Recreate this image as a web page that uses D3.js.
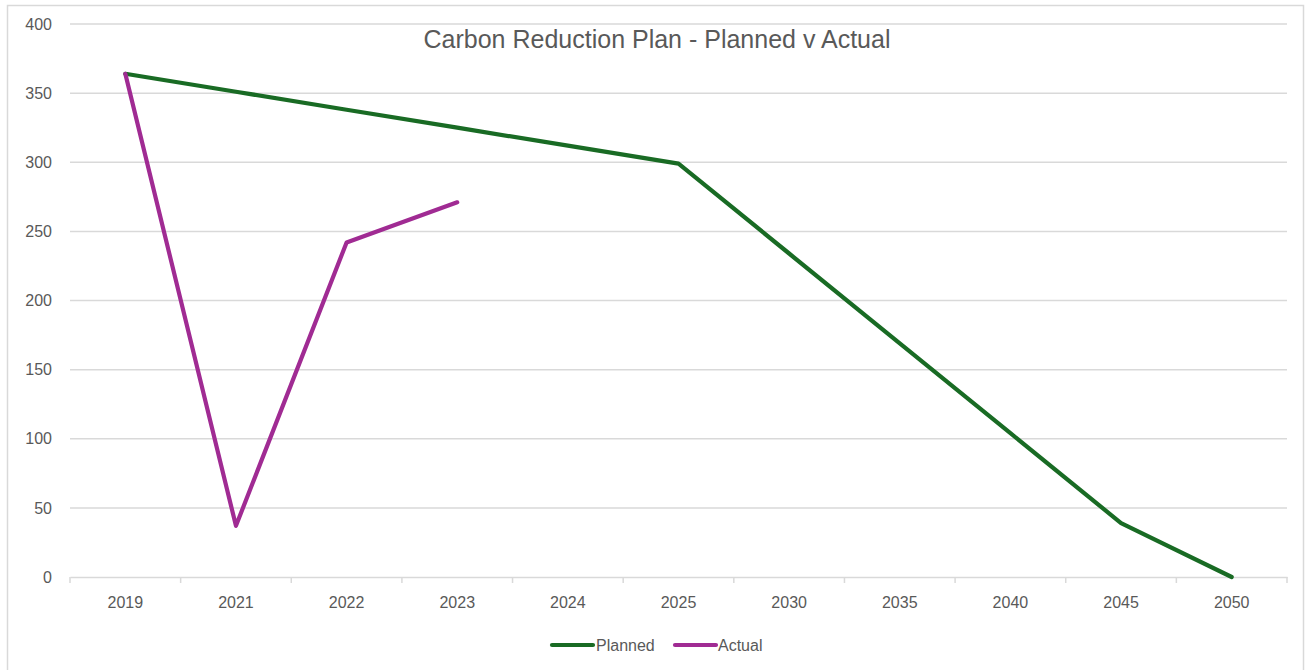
<!DOCTYPE html>
<html><head><meta charset="utf-8">
<script src="https://cdn.jsdelivr.net/npm/d3@7"></script>
<style>body{margin:0;background:#fff}svg{display:block}text{font-family:"Liberation Sans",Arial,sans-serif}</style>
</head><body>
<svg id="c" width="1306" height="670"></svg>
<script>
const categories = ["2019","2021","2022","2023","2024","2025","2030","2035","2040","2045","2050"];
const planned = [364,351,338,325,312,299,234,169,104,39,0];
const actual = [364,37,242,271,null,null,null,null,null,null,null];
const yTicks = [0,50,100,150,200,250,300,350,400];
const title = "Carbon Reduction Plan - Planned v Actual";
const seriesNames = ["Planned","Actual"];
const colors = ["#196B24","#A02B93"];

const svg = d3.select("#c");
const m = {left:70, right:1287, top:24, bottom:577};
svg.append("rect").attr("x",7.5).attr("y",5.5).attr("width",1296).attr("height",700)
  .attr("fill","#fff").attr("stroke","#d9d9d9").attr("stroke-width",1.5);

const x = d3.scaleBand().domain(categories).range([m.left,m.right]).padding(0);
const y = d3.scaleLinear().domain([0,400]).range([m.bottom,m.top]);
const cx = d => x(d)+x.bandwidth()/2;

svg.append("g").selectAll("line").data(yTicks.filter(t=>t>0)).join("line")
  .attr("x1",m.left).attr("x2",m.right).attr("y1",d=>y(d)).attr("y2",d=>y(d))
  .attr("stroke","#d9d9d9").attr("stroke-width",1.5);

const yAxis = d3.axisLeft(y).tickValues(yTicks).tickSize(0).tickPadding(18);
const ya = svg.append("g").attr("transform",`translate(${m.left},0)`).call(yAxis);
ya.select(".domain").remove();
ya.selectAll("text").attr("fill","#595959").style("font-size","16px");

const xa = svg.append("g").attr("transform",`translate(0,${m.bottom})`)
  .call(d3.axisBottom(x).tickSize(0).tickPadding(20));
xa.select(".domain").attr("stroke","#d9d9d9").attr("stroke-width",1.5);
xa.selectAll("text").attr("fill","#595959").style("font-size","16px");
const bounds = categories.map(c=>x(c)).concat([m.right]);
svg.append("g").selectAll("line").data(bounds).join("line")
  .attr("x1",d=>d).attr("x2",d=>d).attr("y1",m.bottom).attr("y2",m.bottom+6)
  .attr("stroke","#d9d9d9").attr("stroke-width",1.5);

const line = d3.line().defined(d=>d.v!=null).x(d=>cx(d.c)).y(d=>y(d.v));
[planned,actual].forEach((s,i)=>{
  svg.append("path").datum(categories.map((c,j)=>({c,v:s[j]})))
    .attr("d",line).attr("fill","none").attr("stroke",colors[i])
    .attr("stroke-width",4.2).attr("stroke-linejoin","round").attr("stroke-linecap","round");
});

svg.append("text").attr("x",657).attr("y",48).attr("text-anchor","middle")
  .attr("fill","#595959").style("font-size","25px").text(title);

const lg = [{x:552,tx:596},{x:675,tx:718}];
seriesNames.forEach((n,i)=>{
  svg.append("line").attr("x1",lg[i].x).attr("x2",lg[i].x+41).attr("y1",645).attr("y2",645)
    .attr("stroke",colors[i]).attr("stroke-width",4.2).attr("stroke-linecap","round");
  svg.append("text").attr("x",lg[i].tx).attr("y",651).attr("fill","#595959")
    .style("font-size","16px").text(n);
});
</script>
</body></html>
